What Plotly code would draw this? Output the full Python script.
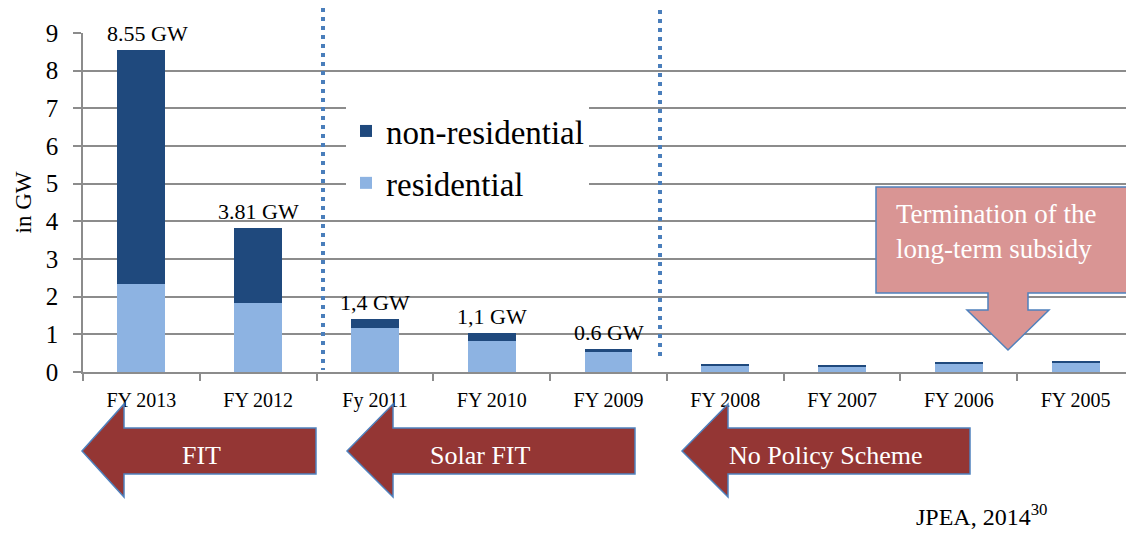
import plotly.graph_objects as go

years = ['FY 2013', 'FY 2012', 'Fy 2011', 'FY 2010', 'FY 2009',
         'FY 2008', 'FY 2007', 'FY 2006', 'FY 2005']
residential = [2.34, 1.84, 1.17, 0.82, 0.54, 0.17, 0.15, 0.23, 0.25]
non_residential = [6.21, 1.97, 0.23, 0.22, 0.06, 0.05, 0.04, 0.04, 0.05]
total_labels = ['8.55 GW', '3.81 GW', '1,4 GW', '1,1 GW', '0.6 GW']

policy_names = ['FIT', 'Solar FIT', 'No Policy Scheme']

SERIF = 'Liberation Serif'
OFF = 8  # page body margin
W, H = 1134 - OFF, 534 - OFF
L, R, T, B = 83 - OFF, 0, 33 - OFF, 534 - 372
PW, PH = W - L - R, H - T - B


def px(x):
    return (x - OFF - L) / PW


def py(y):
    return (H - B - (y - OFF)) / PH


fig = go.Figure()
fig.add_trace(go.Bar(x=years, y=residential, name='residential',
                     marker=dict(color='#8db3e2', line=dict(width=0)),
                     legendgroup='res', legendrank=2))
fig.add_trace(go.Bar(x=years, y=non_residential, name='non-residential',
                     marker=dict(color='#1f497d', line=dict(width=0)),
                     legendgroup='non', legendrank=1))

# totals above the first bars
for i, lab in enumerate(total_labels):
    fig.add_annotation(x=years[i], y=residential[i] + non_residential[i],
                       text=lab, showarrow=False, yanchor='bottom', yshift=2,
                       xshift=6 if i == 0 else 0,
                       font=dict(family=SERIF, size=22, color='black'))

shapes = []
# dotted separators
for xp, top, bot in [(323, 8, 370), (660, 10, 358)]:
    shapes.append(dict(type='line', xref='paper', yref='paper',
                       x0=px(xp), x1=px(xp), y0=py(top), y1=py(bot),
                       line=dict(color='#4a7ebb', width=4, dash='4px,5px')))

# policy arrows below the axis
arrows = [(82, 124, 316, 201), (347, 393, 635, 480), (682, 728, 970, 826)]
ty = 451
for (tip, hb, right, tx), name in zip(arrows, policy_names):
    pts = [(tip, ty), (hb, ty - 47), (hb, ty - 23), (right, ty - 23),
           (right, ty + 23), (hb, ty + 23), (hb, ty + 46)]
    path = 'M ' + ' L '.join(f'{px(a):.5f},{py(b):.5f}' for a, b in pts) + ' Z'
    shapes.append(dict(type='path', xref='paper', yref='paper', path=path,
                       fillcolor='#943634', line=dict(color='#4f81bd', width=1.5)))
    fig.add_annotation(xref='paper', yref='paper', x=px(tx), y=py(455),
                       xanchor='center', yanchor='middle',
                       text=name, showarrow=False,
                       font=dict(family=SERIF, size=26, color='white'))

# termination callout
pts = [(876, 187), (1131, 187), (1131, 293), (1028, 293), (1028, 310),
       (1049, 310), (1008, 350), (967, 310), (988, 310), (988, 293), (876, 293)]
path = 'M ' + ' L '.join(f'{px(a):.5f},{py(b):.5f}' for a, b in pts) + ' Z'
shapes.append(dict(type='path', xref='paper', yref='paper', path=path,
                   fillcolor='#d99594', line=dict(color='#4f81bd', width=1.5)))
fig.add_annotation(xref='paper', yref='paper', x=px(894), y=py(197),
                   xanchor='left', yanchor='top', align='left',
                   text='Termination of the<br>long-term subsidy', showarrow=False,
                   font=dict(family=SERIF, size=27, color='white'))

fig.add_annotation(xref='paper', yref='paper', x=px(914), y=py(515),
                   xanchor='left', yanchor='middle', showarrow=False,
                   text='JPEA, 2014<sup>30</sup>',
                   font=dict(family=SERIF, size=24, color='black'))

fig.update_layout(
    width=W, height=H,
    margin=dict(l=L, r=R, t=T, b=B),
    barmode='stack', bargap=0.59,
    plot_bgcolor='white', paper_bgcolor='white',
    shapes=shapes,
    showlegend=True,
    legend=dict(x=px(346), y=py(103), xanchor='left', yanchor='top',
                traceorder='grouped', tracegroupgap=6,
                bgcolor='white', borderwidth=0,
                font=dict(family=SERIF, size=33, color='black')),
    font=dict(family=SERIF, color='black'),
)
fig.update_xaxes(range=[-0.5, 8.5], showline=True, linecolor='#8c8c8c', linewidth=1.5,
                 ticks='outside', tickson='boundaries', ticklen=7, tickcolor='#8c8c8c',
                 tickwidth=1.5, showgrid=False, ticklabelstandoff=9,
                 tickfont=dict(size=20, family=SERIF))
fig.update_yaxes(range=[0, 9], dtick=1, showline=True, linecolor='#8c8c8c', linewidth=1.5,
                 ticks='outside', ticklen=8, tickcolor='#8c8c8c', tickwidth=1.5,
                 showgrid=True, gridcolor='#8c8c8c', gridwidth=1.5, zeroline=False,
                 ticklabelstandoff=10, tickfont=dict(size=25, family=SERIF),
                 title=dict(text='in GW', font=dict(size=23, family=SERIF), standoff=8))

fig.write_html('out.html')
